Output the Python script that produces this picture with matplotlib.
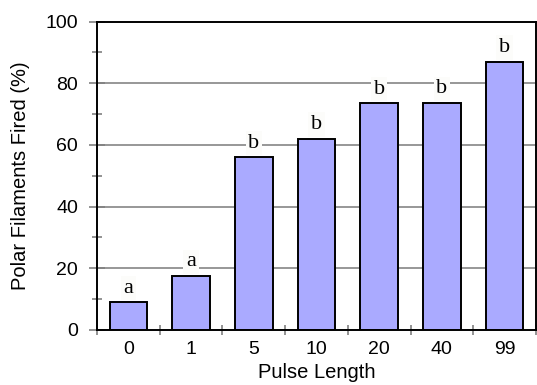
import matplotlib
matplotlib.use("Agg")
import matplotlib.pyplot as plt
from matplotlib.ticker import FixedLocator, NullFormatter

categories = ["0", "1", "5", "10", "20", "40", "99"]
values = [9.0, 17.5, 56.0, 62.0, 73.5, 73.6, 87.0]
letters = ["a", "a", "b", "b", "b", "b", "b"]
y_ticks = [0, 20, 40, 60, 80, 100]

plt.rcParams['font.family'] = ['Liberation Sans', 'DejaVu Sans']

fig = plt.figure(figsize=(5.37, 3.85), dpi=100)
ax = fig.add_axes([97/537, 1 - 330/385, (536 - 97)/537, (330 - 21.5)/385])

x = list(range(len(categories)))
ax.set_xlim(-0.5, len(categories) - 0.5)
ax.set_ylim(0, 100)

# gridlines
for yv in y_ticks[1:-1]:
    ax.axhline(yv, color="#858585", lw=1.2, zorder=1)

ax.bar(x, values, width=0.6, color="#AAAAFF", edgecolor="black", linewidth=1.4, zorder=2)

for xi, v, t in zip(x, values, letters):
    ax.annotate(t, (xi, v), xytext=(0, 7), textcoords="offset points",
                ha="center", va="baseline", fontsize=16, family="Liberation Serif",
                bbox=dict(boxstyle="square,pad=0.12", fc="#fcfcfa", ec="none"), zorder=3)

# y axis ticks
ax.set_yticks(y_ticks)
ax.set_yticklabels([str(v) for v in y_ticks], fontsize=14)
ax.yaxis.set_minor_locator(FixedLocator([10, 30, 50, 70, 90]))
ax.tick_params(axis="y", which="major", direction="inout", length=11.5, width=1.2,
               color="#808080", pad=8)
ax.tick_params(axis="y", which="minor", direction="inout", length=7.2, width=1.2,
               color="#808080")

# x axis ticks at boundaries, labels at centres
ax.set_xticks([i - 0.5 for i in range(len(categories) + 1)])
ax.xaxis.set_major_formatter(NullFormatter())
ax.set_xticks(x, minor=True)
ax.set_xticklabels(categories, minor=True, fontsize=14)
ax.tick_params(axis="x", which="major", direction="inout", length=7.2, width=1.2,
               color="#808080")
ax.tick_params(axis="x", which="minor", length=0, pad=8)

for s in ax.spines.values():
    s.set_color("black")
    s.set_linewidth(1.4)
    s.set_zorder(4)

ax.set_xlabel("Pulse Length", fontsize=14.5, labelpad=3.5)
ax.set_ylabel("Polar Filaments Fired (%)", fontsize=14.5, labelpad=11)

fig.savefig("out.png", dpi=100)
